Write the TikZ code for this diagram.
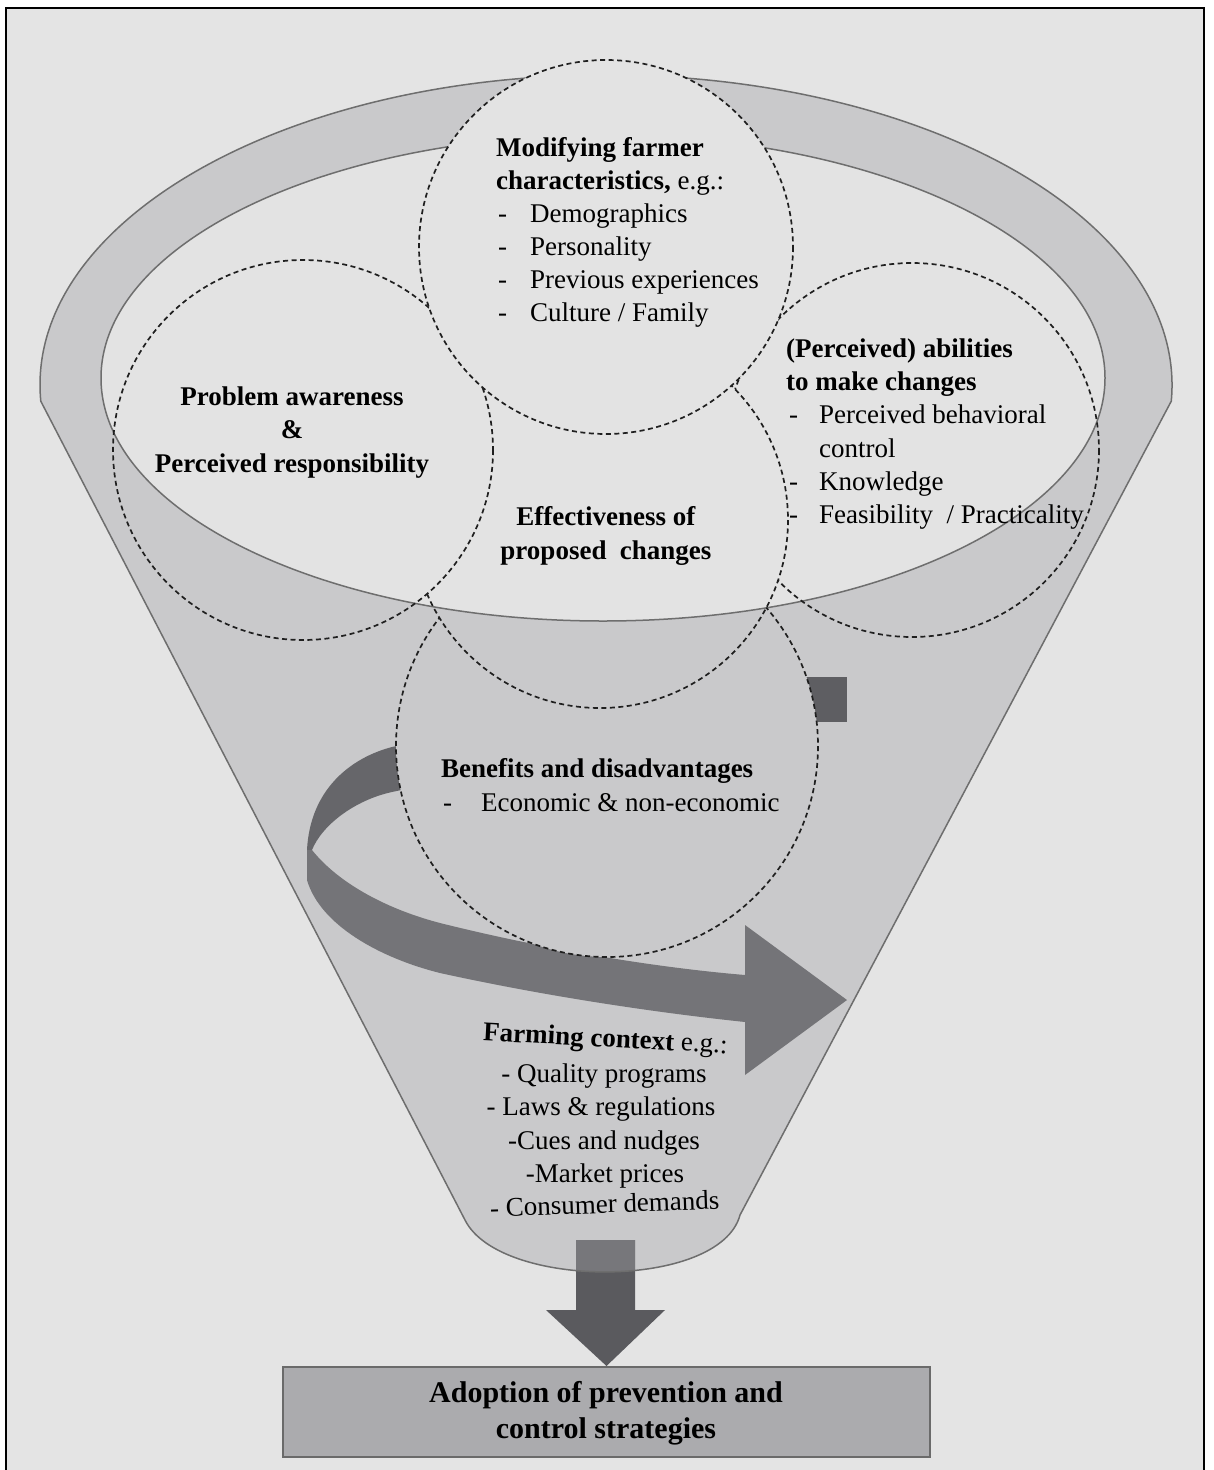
\documentclass[tikz,border=0pt]{standalone}
\usepackage{fontspec}
\setmainfont{Liberation Serif}

\definecolor{bgray}{HTML}{E4E4E4}
\definecolor{funnelgray}{HTML}{C9C9CB}
\definecolor{innergray}{HTML}{E3E3E3}
\definecolor{rimline}{HTML}{6E6E6E}
\definecolor{bandback}{HTML}{66666A}
\definecolor{bandfront}{HTML}{747478}
\definecolor{bandtail}{HTML}{5E5E62}
\definecolor{downdark}{HTML}{5A5A5E}
\definecolor{downlight}{HTML}{77777B}
\definecolor{boxgray}{HTML}{ABABAE}
\definecolor{boxedge}{HTML}{6A6A6A}

% clip that keeps everything outside the circle (#1,#2) of radius #3
\newcommand{\holeclip}[3]{%
  \clip (-20,-20) -- (-20,1500) -- (1240,1500) -- (1240,-20) -- cycle
        (#1+#3,#2) arc[start angle=0,end angle=360,radius=#3];}

% outline of the funnel: rim ellipse on top, straight sides, rounded bottom
\def\funnelpath{(40.8,401.2) arc[start angle=177,end angle=363,x radius=566,y radius=310]
  -- (740,1215) .. controls (720,1290) and (500,1290) .. (465,1220) -- cycle}

\begin{document}
\begin{tikzpicture}[x=1pt,y=-1pt,
  lbl/.style={inner sep=0pt, font=\fontsize{27}{33}\selectfont, anchor=base west},
  lblc/.style={inner sep=0pt, font=\fontsize{27}{33}\selectfont, anchor=base},
  boxlbl/.style={inner sep=0pt, font=\fontsize{30}{36}\selectfont\bfseries, anchor=base},
  dc/.style={draw=black!88, line width=1.7pt, dash pattern=on 5pt off 3.5pt},
  rim/.style={draw=rimline, line width=1.5pt}]

\useasboundingbox (0,0) rectangle (1214,1470);
\fill[white] (0,0) rectangle (1214,1470);
\draw[line width=2pt, fill=bgray] (6,8) rectangle (1204,1490);

% target box
\node[draw=boxedge, line width=2pt, fill=boxgray, minimum width=647pt,
      minimum height=90pt, inner sep=0pt] (box) at (606.5,1412) {};

% funnel body
\fill[funnelgray] \funnelpath;

% outflow arrow to the box
\fill[downdark] (576,1240) -- (635,1240) -- (635,1310) -- (665,1310)
  -- (box.north) -- (546,1310) -- (576,1310) -- cycle;
\begin{scope}
  \clip \funnelpath;
  \fill[downlight] (576,1240) rectangle (635,1310);
\end{scope}
\draw[rim] \funnelpath;

% curved ribbon arrow
\fill[bandtail] (775,677) rectangle (847,722);
\fill[bandback] (420,741) -- (392,747) .. controls (350,758) and (310,790) .. (307,850)
  -- (312,850) .. controls (322,825) and (355,800) .. (392,792) -- (420,786) -- cycle;
\fill[bandfront] (312,850) .. controls (340,885) and (390,910) .. (440,923)
  .. controls (540,948) and (650,967) .. (745,975) -- (745,925) -- (847,1000)
  -- (745,1075) -- (745,1022) .. controls (650,1012) and (540,995) .. (440,973)
  .. controls (380,958) and (320,925) .. (307,880) -- (307,850) -- cycle;

% benefits circle body, lying behind the middle circle
\begin{scope}
  \holeclip{600}{520}{188}
  \fill[funnelgray] (607,746) circle[radius=211];
\end{scope}

% funnel opening
\draw[rim, fill=innergray] (603,378) ellipse[x radius=502, y radius=243];
\fill[innergray] (606,247) circle[radius=187];

% dashed circles, each hidden where a circle above it lies
\begin{scope}
  \holeclip{600}{520}{188}
  \holeclip{606}{247}{187}
  \draw[dc] (912,450) circle[radius=187];
\end{scope}
\begin{scope}
  \holeclip{303}{450}{190}
  \holeclip{606}{247}{187}
  \draw[dc] (600,520) circle[radius=188];
\end{scope}
\begin{scope}
  \holeclip{606}{247}{187}
  \draw[dc] (303,450) circle[radius=190];
\end{scope}
\draw[dc] (606,247) circle[radius=187];
\begin{scope}
  \holeclip{600}{520}{188}
  \draw[dc] (607,746) circle[radius=211];
\end{scope}

% farmer characteristics
\node[lbl] (fc1) at (496,156) {\textbf{Modifying farmer}};
\node[lbl] (fc2) at (496,189) {\textbf{characteristics,} e.g.:};
\node[lbl] (fcd1) at (498,222) {-};
\node[lbl] (fc3) at (530,222) {Demographics};
\node[lbl] (fcd2) at (498,255) {-};
\node[lbl] (fc4) at (530,255) {Personality};
\node[lbl] (fcd3) at (498,288) {-};
\node[lbl] (fc5) at (530,288) {Previous experiences};
\node[lbl] (fcd4) at (498,321) {-};
\node[lbl] (fc6) at (530,321) {Culture / Family};

% problem awareness
\node[lblc] (pa1) at (292,405) {\textbf{Problem awareness}};
\node[lblc] (pa2) at (292,438) {\textbf{\&}};
\node[lblc] (pa3) at (292,472) {\textbf{Perceived responsibility}};

% effectiveness
\node[lblc] (ef1) at (606,525) {\textbf{Effectiveness of}};
\node[lblc] (ef2) at (606,559) {\textbf{proposed\ \ changes}};

% abilities
\node[lbl] (ab1) at (786,357) {\textbf{(Perceived) abilities}};
\node[lbl] (ab2) at (786,390) {\textbf{to make changes}};
\node[lbl] (abd1) at (789,423) {-};
\node[lbl] (ab3) at (819,423) {Perceived behavioral};
\node[lbl] (ab4) at (819,457) {control};
\node[lbl] (abd2) at (789,490) {-};
\node[lbl] (ab5) at (819,490) {Knowledge};
\node[lbl] (abd3) at (789,523) {-};
\node[lbl] (ab6) at (819,523) {Feasibility\ \ / Practicality};

% benefits
\node[lbl] (bd1) at (441,777) {\textbf{Benefits and disadvantages}};
\node[lbl] (bdd) at (443,811) {-};
\node[lbl] (bd2) at (481,811) {Economic \& non-economic};

% farming context
\node[lblc, rotate=-3] (fx1) at (605,1047) {\textbf{Farming context} e.g.:};
\node[lblc] (fx2) at (604,1082) {- Quality programs};
\node[lblc] (fx3) at (601,1115) {- Laws \& regulations};
\node[lblc] (fx4) at (604,1149) {-Cues and nudges};
\node[lblc] (fx5) at (605,1182) {-Market prices};
\node[lblc, rotate=2] (fx6) at (605,1213) {- Consumer demands};

% box text
\node[boxlbl] (bx1) at (606,1402) {Adoption of prevention and};
\node[boxlbl] (bx2) at (606,1438) {control strategies};
\end{tikzpicture}
\end{document}
